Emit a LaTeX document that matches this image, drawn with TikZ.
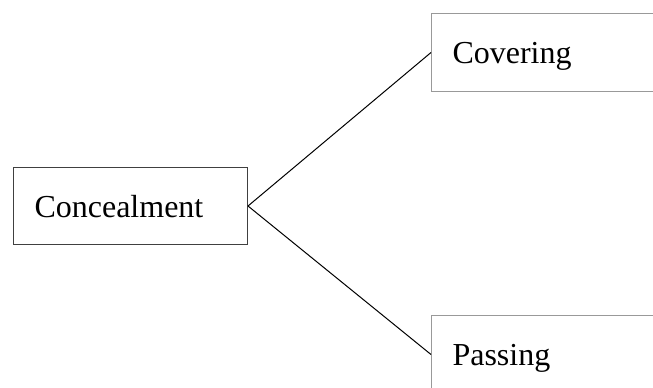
\documentclass[tikz,border=0pt]{standalone}
\usepackage{fontspec}
\setmainfont{Liberation Serif}
\begin{document}
\begin{tikzpicture}[x=1pt,y=1pt,line width=1pt,
  term/.style={draw,rectangle,anchor=north west,minimum width=234pt,minimum height=78pt,
    inner xsep=21pt,text width=192pt,align=left,text height=25pt,text depth=3pt,
    font=\fontsize{32}{38}\selectfont}]
\useasboundingbox (0,0) rectangle (653,-388);
\clip (0,0) rectangle (653,-388);
\node[term,draw=black!75,minimum height=77pt] (conc) at (13,-167) {Concealment};
\node[term,draw=black!40] (cov) at (431,-13) {Covering};
\node[term,draw=black!40] (pass) at (431,-315) {Passing};
\draw (conc.east) -- (cov.west);
\draw (conc.east) -- (pass.west);
\end{tikzpicture}
\end{document}
